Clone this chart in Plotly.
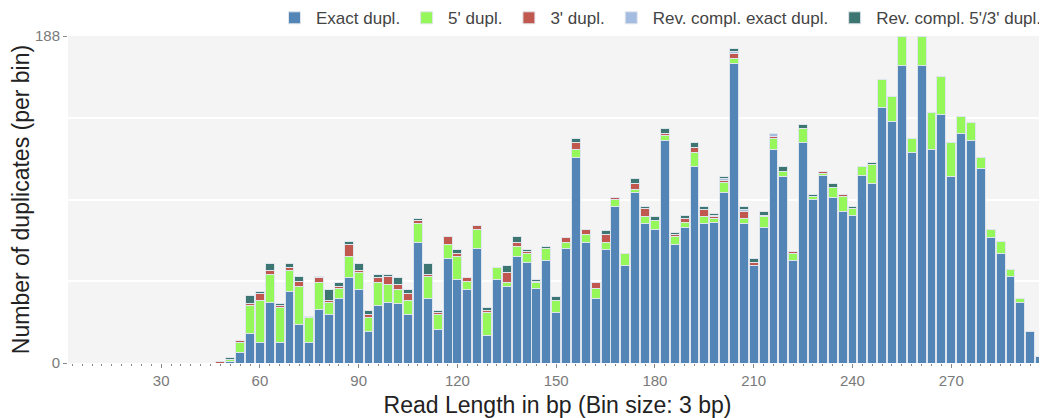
import plotly.graph_objects as go

# Bin centres (bp), bin size 3
bins = list(range(3, 301, 3))

zeros15 = [0] * 15  # bins 3..45

exact = zeros15 + [
    0, 1, 6, 17, 12, 35, 12, 41, 22, 12, 31, 28, 37, 49, 42, 18, 33, 35, 34, 28,
    69, 37, 19, 60, 48, 42, 66, 16, 48, 44, 61, 58, 43, 59, 29, 66, 118, 69, 37, 65,
    90, 56, 98, 80, 77, 128, 68, 78, 113, 80, 81, 98, 172, 80, 56, 78, 123, 107, 59, 127,
    94, 108, 95, 87, 85, 108, 103, 147, 139, 171, 121, 171, 123, 143, 107, 132, 128, 112, 72, 63,
    50, 35, 18, 4, 8]
dup5 = zeros15 + [
    0, 1, 6, 16, 24, 16, 20, 12, 22, 14, 15, 7, 6, 12, 10, 8, 13, 10, 8, 8,
    11, 13, 9, 8, 13, 5, 11, 13, 7, 2, 6, 5, 3, 7, 7, 3, 5, 5, 6, 4,
    4, 7, 2, 4, 5, 3, 5, 3, 8, 4, 2, 6, 3, 3, 0, 6, 6, 3, 4, 8,
    2, 1, 6, 9, 4, 5, 11, 16, 14, 17, 8, 17, 21, 22, 20, 10, 10, 6, 5, 7,
    4, 2, 0, 0, 0]
dup3 = zeros15 + [
    1, 0, 1, 1, 4, 2, 1, 2, 3, 1, 3, 1, 1, 7, 1, 2, 3, 5, 3, 4,
    2, 1, 1, 5, 2, 2, 2, 1, 0, 6, 2, 1, 1, 0, 0, 3, 4, 3, 3, 5,
    1, 0, 3, 5, 0, 1, 1, 2, 3, 4, 1, 1, 3, 4, 2, 0, 1, 0, 1, 0,
    0, 1, 0, 1, 0, 0, 0, 0, 0, 0, 0, 0, 0, 0, 0, 0, 0, 0, 0, 0,
    0, 0, 0, 0, 0]
rc_exact = zeros15 + [
    0, 0, 0, 0, 0, 0, 0, 0, 0, 0, 0, 0, 0, 0, 0, 0, 0, 0, 0, 0,
    0, 0, 0, 0, 0, 0, 0, 0, 0, 0, 0, 0, 0, 0, 0, 0, 0, 0, 0, 0,
    0, 0, 0, 0, 0, 0, 0, 0, 0, 0, 1, 1, 1, 1, 0, 1, 2, 0, 0, 0,
    0, 0, 0, 0, 0, 0, 0, 0, 0, 0, 0, 0, 0, 0, 0, 0, 0, 0, 0, 0,
    0, 0, 0, 0, 0]
rc_53 = zeros15 + [
    0, 1, 0, 5, 1, 4, 1, 2, 3, 0, 1, 6, 2, 2, 4, 2, 2, 1, 4, 2,
    1, 6, 1, 0, 2, 0, 0, 2, 0, 4, 4, 1, 1, 1, 2, 0, 2, 0, 0, 2,
    0, 0, 3, 1, 2, 3, 1, 2, 3, 2, 1, 1, 2, 2, 2, 2, 0, 3, 0, 2,
    1, 0, 2, 0, 1, 0, 1, 0, 0, 0, 0, 0, 0, 0, 0, 0, 0, 0, 0, 0,
    0, 0, 0, 0, 0]

series_names = ["Exact dupl.", "5' dupl.", "3' dupl.",
                "Rev. compl. exact dupl.", "Rev. compl. 5'/3' dupl."]
series_values = [exact, dup5, dup3, rc_exact, rc_53]
series_colors = ["#5485b7", "#96f75b", "#c0584f", "#a4bce0", "#3c7572"]

y_max = 188
x_ticks = list(range(30, 271, 30))

FONT = "Liberation Sans, Arial, sans-serif"

fig = go.Figure()
for name, vals, col in zip(series_names, series_values, series_colors):
    fig.add_trace(go.Bar(
        x=bins, y=vals, name=name,
        marker=dict(color=col, line=dict(color="#dfe5ec", width=1)),
    ))

# page body has an 8px margin, so the figure is sized to end at the window edge
fig.update_layout(
    barmode="stack",
    bargap=0.1,
    width=1039, height=410,
    margin=dict(l=60, r=0, t=28, b=55, autoexpand=False),
    paper_bgcolor="white",
    plot_bgcolor="#f4f4f4",
    font=dict(family=FONT, color="#444"),
    showlegend=True,
    legend=dict(
        orientation="h", xref="container", x=1.0, xanchor="right",
        yref="container", y=0.975, yanchor="middle",
        font=dict(size=17, color="#444", family=FONT),
        bgcolor="rgba(0,0,0,0)", itemclick=False, traceorder="normal",
        itemwidth=33, tracegroupgap=0,
    ),
    xaxis=dict(
        range=[1.7, 299.1], automargin=False,
        tickmode="array", tickvals=x_ticks,
        ticks="outside", ticklen=4, tickcolor="#888", tickwidth=1,
        tickfont=dict(size=15, color="#7a7a7a"),
        showgrid=False, zeroline=False, showline=False,
        minor=dict(dtick=3, tick0=0, ticks="outside", ticklen=2,
                   tickcolor="#888", tickwidth=1, showgrid=False),
        title=dict(text="Read Length in bp (Bin size: 3 bp)",
                   font=dict(size=23, color="#222"), standoff=8),
    ),
    yaxis=dict(
        range=[0, y_max], automargin=False,
        tickmode="array", tickvals=[0, y_max], ticktext=[str(0), str(y_max)],
        ticks="outside", ticklen=4, tickcolor="#888", tickwidth=1,
        tickfont=dict(size=15, color="#7a7a7a"),
        showgrid=True, gridcolor="white", gridwidth=1.5,
        zeroline=False, showline=False,
        minor=dict(tickmode="array", tickvals=[47, 94, 141], showgrid=True,
                   gridcolor="white", gridwidth=1.5, ticks=""),
        title=dict(text="Number of duplicates (per bin)",
                   font=dict(size=23, color="#222"), standoff=0),
    ),
)

fig.write_html("out.html")
